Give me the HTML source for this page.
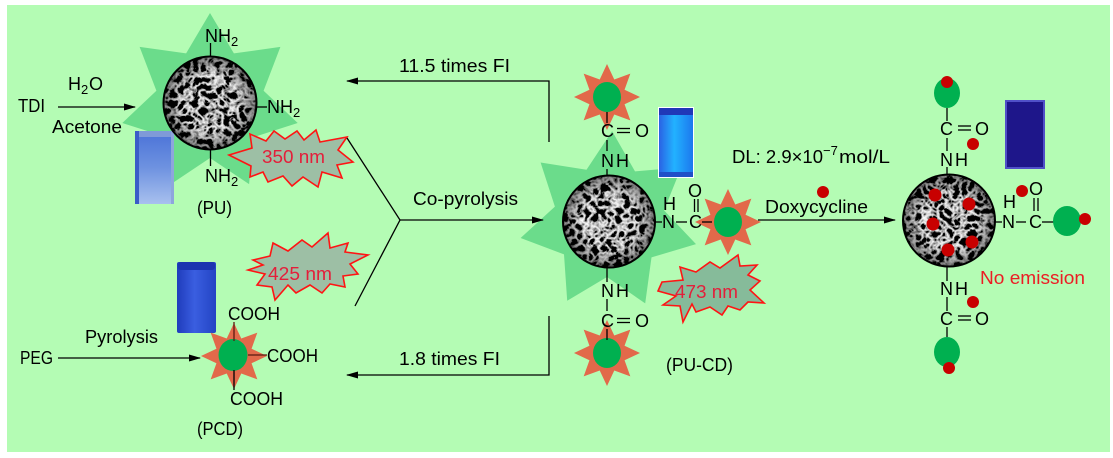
<!DOCTYPE html>
<html>
<head>
<meta charset="utf-8">
<style>
  html, body { margin: 0; padding: 0; background: #ffffff; }
  svg { display: block; }
  text { font-family: "Liberation Sans", "DejaVu Sans", sans-serif; fill: #000; }
</style>
</head>
<body>
<svg width="1113" height="458" viewBox="0 0 1113 458" xmlns="http://www.w3.org/2000/svg">
  <defs>
    <filter id="sem" x="0" y="0" width="1" height="1">
      <feTurbulence type="turbulence" baseFrequency="0.13" numOctaves="2" seed="7"/>
      <feColorMatrix type="matrix" values="-3 0 0 0 1.0  -3 0 0 0 1.0  -3 0 0 0 1.0  0 0 0 0 1"/>
    </filter>
    <radialGradient id="vig" cx="0.5" cy="0.5" r="0.5">
      <stop offset="0.6" stop-color="#000" stop-opacity="0"/>
      <stop offset="1" stop-color="#000" stop-opacity="0.45"/>
    </radialGradient>
    <clipPath id="c1"><circle cx="210" cy="103" r="46.5"/></clipPath>
    <clipPath id="c2"><circle cx="609" cy="221.5" r="46"/></clipPath>
    <clipPath id="c3"><circle cx="949" cy="220.5" r="46"/></clipPath>
    <marker id="ah" markerWidth="12" markerHeight="8" refX="11" refY="4" orient="auto" markerUnits="userSpaceOnUse">
      <path d="M0,0.5 L12,4 L0,7.5 z" fill="#000"/>
    </marker>
    <polygon id="ostar" fill="#e2694a" points="0,-33 7.27,-17.55 23.33,-23.33 17.55,-7.27 33,0 17.55,7.27 23.33,23.33 7.27,17.55 0,33 -7.27,17.55 -23.33,23.33 -17.55,7.27 -33,0 -17.55,-7.27 -23.33,-23.33 -7.27,-17.55"/>
    <linearGradient id="tubePU" x1="0" y1="0" x2="0" y2="1">
      <stop offset="0" stop-color="#4a72d8"/>
      <stop offset="0.5" stop-color="#6e92e0"/>
      <stop offset="1" stop-color="#a8c0ee"/>
    </linearGradient>
    <linearGradient id="tubePCD" x1="0" y1="0" x2="1" y2="0">
      <stop offset="0" stop-color="#1f3cbc"/>
      <stop offset="0.45" stop-color="#3a5ee0"/>
      <stop offset="1" stop-color="#2344c4"/>
    </linearGradient>
    <linearGradient id="tubeCD" x1="0" y1="0" x2="1" y2="0">
      <stop offset="0" stop-color="#2a62e4"/>
      <stop offset="0.45" stop-color="#22b2ff"/>
      <stop offset="1" stop-color="#1c78ee"/>
    </linearGradient>
  </defs>

  <!-- background -->
  <rect x="7" y="5" width="1103" height="447" fill="#b4fcb4"/>

  <!-- green stars -->
  <polygon fill="#6bdc8b" points="210,13 233.9,53.4 280.4,46.9 263.6,90.8 297.7,123 253,137.3 249.1,184.1 210,158 170.9,184.1 167,137.3 122.3,123 156.4,90.8 139.6,46.9 186.1,53.4"/>
  <polygon fill="#6bdc8b" points="612.1,131.1 635,171.4 681.3,167.4 664,210.4 696,244.1 651.5,257.4 645.2,303.4 607,277 567.2,300.7 564,254.4 520.6,238 554.9,206.6 540.6,162.5 586.5,169.7"/>

  <!-- tubes -->
  <rect x="135" y="131" width="39" height="73" fill="url(#tubePU)"/>
  <rect x="135" y="131" width="4" height="73" fill="#3a5cc8"/>
  <rect x="139" y="131" width="35" height="6" fill="#7f9ad8"/>
  <rect x="171" y="131" width="3" height="73" fill="#8ea6dc"/>

  <rect x="177" y="262" width="39" height="71" rx="2" fill="url(#tubePCD)"/>
  <rect x="178" y="262" width="37" height="8" rx="3" fill="#1c34b0"/>

  <rect x="658" y="107" width="36" height="71" fill="#ffffff"/>
  <rect x="659" y="108" width="34" height="69" fill="url(#tubeCD)"/>
  <rect x="659" y="108" width="34" height="7" fill="#2038b8"/>
  <rect x="659" y="172" width="34" height="5" fill="#2050c8"/>

  <rect x="1005" y="100" width="40" height="69" fill="#5050c8"/>
  <rect x="1007" y="102" width="36" height="65" fill="#1e168a"/>

  <!-- spheres -->
  <g clip-path="url(#c1)">
    <rect x="160" y="53" width="100" height="100" filter="url(#sem)"/>
    <circle cx="210" cy="103" r="46.5" fill="url(#vig)"/>
  </g>
  <circle cx="210" cy="103" r="46.5" fill="none" stroke="#000" stroke-width="2"/>

  <g clip-path="url(#c2)">
    <rect x="559" y="171" width="100" height="102" filter="url(#sem)"/>
    <circle cx="609" cy="221.5" r="46" fill="url(#vig)"/>
  </g>
  <circle cx="609" cy="221.5" r="46" fill="none" stroke="#000" stroke-width="2"/>

  <g clip-path="url(#c3)">
    <rect x="899" y="170" width="100" height="102" filter="url(#sem)"/>
    <circle cx="949" cy="220.5" r="46" fill="url(#vig)"/>
  </g>
  <circle cx="949" cy="220.5" r="46" fill="none" stroke="#000" stroke-width="2"/>

  <!-- orange stars -->
  <use href="#ostar" x="234" y="356"/>
  <ellipse cx="233" cy="355" rx="14.5" ry="16" fill="#00b050"/>
  <use href="#ostar" x="607" y="97"/>
  <ellipse cx="607" cy="97" rx="14" ry="15" fill="#00b050"/>
  <use href="#ostar" x="607" y="353"/>
  <ellipse cx="607" cy="353" rx="14" ry="15" fill="#00b050"/>
  <use href="#ostar" x="728" y="222"/>
  <ellipse cx="728" cy="222" rx="14" ry="15" fill="#00b050"/>

  <!-- bursts -->
  <polygon fill="#9dbfa5" stroke="#ff1414" stroke-width="1.6" stroke-linejoin="miter" points="229,155 252,148 250,134 266,141 274,131 285,139 297,131 304,140 316,130 320,142 347,137 338,150 353,162 337,165 342,178 322,172 318,187 303,177 292,186 283,176 268,182 263,172 250,177 251,166"/>
  <polygon fill="#9dbfa5" stroke="#ff1414" stroke-width="1.6" points="253,260 270,256 273,243 288,251 302,240 312,247 328,233 330,248 348,243 345,252 368,255 350,264 358,274 343,276 345,287 330,284 322,293 310,285 296,293 288,285 275,300 272,287 257,285 265,274 248,270 263,265"/>
  <polygon fill="#86bb9a" stroke="#ff1414" stroke-width="1.6" points="662,282 683,280 680,267 696,272 710,262 720,268 738,255 740,266 757,265 748,275 760,281 750,290 764,303 748,302 740,310 728,306 722,315 710,307 696,312 692,304 683,322 680,306 663,305 676,296 658,291"/>

  <!-- connectors -->
  <g stroke="#000" stroke-width="1.3" fill="none">
    <line x1="58" y1="107" x2="135" y2="107" marker-end="url(#ah)"/>
    <line x1="58" y1="358" x2="200" y2="358" marker-end="url(#ah)"/>
    <polyline points="347,138 400,220 355,306"/>
    <line x1="400" y1="220" x2="543" y2="220" marker-end="url(#ah)"/>
    <polyline points="549,142 549,81 347,81" marker-end="url(#ah)"/>
    <polyline points="549,316 549,375 347,375" marker-end="url(#ah)"/>
    <line x1="758" y1="220" x2="895" y2="220" marker-end="url(#ah)"/>

    <!-- PU NH2 bonds -->
    <line x1="210.5" y1="43" x2="210.5" y2="57"/>
    <line x1="257" y1="107" x2="267" y2="107"/>
    <line x1="210.5" y1="150" x2="210.5" y2="166"/>

    <!-- PCD bonds -->
    <line x1="234" y1="322" x2="234" y2="341" stroke="#5a1a10"/>
    <line x1="248" y1="355" x2="267" y2="355" stroke="#5a1a10"/>
    <line x1="234" y1="370" x2="234" y2="390"/>

    <!-- PU-CD bonds -->
    <line x1="607" y1="112" x2="607" y2="123"/>
    <line x1="607" y1="140" x2="607" y2="151"/>
    <line x1="607" y1="169" x2="607" y2="176"/>
    <line x1="617" y1="128.5" x2="630" y2="128.5"/>
    <line x1="617" y1="132.5" x2="630" y2="132.5"/>
    <line x1="607" y1="268" x2="607" y2="282"/>
    <line x1="607" y1="299" x2="607" y2="311"/>
    <line x1="607" y1="329" x2="607" y2="340"/>
    <line x1="617" y1="318.5" x2="630" y2="318.5"/>
    <line x1="617" y1="322.5" x2="630" y2="322.5"/>
    <line x1="655" y1="222" x2="662" y2="222"/>
    <line x1="676" y1="222" x2="687" y2="222"/>
    <line x1="694.5" y1="199" x2="694.5" y2="212"/>
    <line x1="698" y1="199" x2="698" y2="212"/>
    <line x1="702" y1="222" x2="712" y2="222"/>

    <!-- final sphere bonds -->
    <line x1="947" y1="108" x2="947" y2="121"/>
    <line x1="947" y1="138" x2="947" y2="151"/>
    <line x1="947" y1="167" x2="947" y2="175"/>
    <line x1="958" y1="126" x2="971" y2="126"/>
    <line x1="958" y1="130" x2="971" y2="130"/>
    <line x1="947" y1="267" x2="947" y2="281"/>
    <line x1="947" y1="297" x2="947" y2="311"/>
    <line x1="947" y1="327" x2="947" y2="337"/>
    <line x1="958" y1="316" x2="971" y2="316"/>
    <line x1="958" y1="320" x2="971" y2="320"/>
    <line x1="995" y1="222" x2="1002" y2="222"/>
    <line x1="1016" y1="222" x2="1026" y2="222"/>
    <line x1="1034" y1="198" x2="1034" y2="211"/>
    <line x1="1038" y1="198" x2="1038" y2="211"/>
    <line x1="1042" y1="222" x2="1054" y2="222"/>
  </g>

  <!-- final green ellipses & red dots -->
  <ellipse cx="947" cy="93" rx="13" ry="15" fill="#00b050"/>
  <ellipse cx="947" cy="352" rx="13" ry="15" fill="#00b050"/>
  <ellipse cx="1067" cy="221" rx="14" ry="15" fill="#00b050"/>
  <g fill="#c80000">
    <circle cx="823" cy="192" r="6"/>
    <circle cx="935" cy="195" r="6.5"/>
    <circle cx="969" cy="204" r="6.5"/>
    <circle cx="933" cy="224" r="6.5"/>
    <circle cx="972" cy="242" r="6.5"/>
    <circle cx="948" cy="250" r="6.5"/>
    <circle cx="947" cy="82" r="6"/>
    <circle cx="973" cy="144" r="6"/>
    <circle cx="973" cy="302" r="6"/>
    <circle cx="949" cy="368" r="6"/>
    <circle cx="1022" cy="191" r="6"/>
    <circle cx="1085" cy="219" r="6"/>
  </g>

  <!-- texts -->
  <g font-size="18">
    <text x="18" y="112" textLength="27" lengthAdjust="spacingAndGlyphs">TDI</text>
    <text x="68" y="90">H</text>
    <text x="81" y="94" font-size="13">2</text>
    <text x="89" y="90">O</text>
    <text x="52" y="133" textLength="70" lengthAdjust="spacingAndGlyphs">Acetone</text>

    <text x="205" y="42">NH</text><text x="231" y="46" font-size="13">2</text>
    <text x="267" y="113">NH</text><text x="293" y="117" font-size="13">2</text>
    <text x="205" y="182">NH</text><text x="231" y="186" font-size="13">2</text>
    <text x="197" y="214" textLength="35" lengthAdjust="spacingAndGlyphs">(PU)</text>

    <text x="399" y="72" textLength="111" lengthAdjust="spacingAndGlyphs">11.5  times FI</text>
    <text x="413" y="205" textLength="105" lengthAdjust="spacingAndGlyphs">Co-pyrolysis</text>
    <text x="399" y="365" textLength="101" lengthAdjust="spacingAndGlyphs">1.8  times FI</text>

    <text x="20" y="364" textLength="33" lengthAdjust="spacingAndGlyphs">PEG</text>
    <text x="85" y="343" textLength="73" lengthAdjust="spacingAndGlyphs">Pyrolysis</text>
    <text x="228" y="320" textLength="52" lengthAdjust="spacingAndGlyphs">COOH</text>
    <text x="267" y="362" textLength="51" lengthAdjust="spacingAndGlyphs">COOH</text>
    <text x="230" y="405" textLength="53" lengthAdjust="spacingAndGlyphs">COOH</text>
    <text x="197" y="435" textLength="46" lengthAdjust="spacingAndGlyphs">(PCD)</text>

    <!-- PU-CD chem -->
    <text x="601" y="137">C</text>
    <text x="635" y="137">O</text>
    <text x="601" y="167">N</text><text x="616" y="167">H</text>
    <text x="601" y="297">N</text><text x="616" y="297">H</text>
    <text x="601" y="327">C</text>
    <text x="635" y="327">O</text>
    <text x="663" y="210">H</text>
    <text x="662" y="228">N</text>
    <text x="689" y="228">C</text>
    <text x="688" y="197">O</text>
    <text x="666" y="371" textLength="67" lengthAdjust="spacingAndGlyphs">(PU-CD)</text>

    <!-- right side -->
    <text x="732" y="163" textLength="91" lengthAdjust="spacingAndGlyphs">DL: 2.9×10</text>
    <text x="823" y="155" font-size="13">−7</text>
    <text x="839" y="163" textLength="51" lengthAdjust="spacingAndGlyphs">mol/L</text>
    <text x="765" y="213" textLength="103" lengthAdjust="spacingAndGlyphs">Doxycycline</text>

    <text x="940" y="135">C</text>
    <text x="975" y="135">O</text>
    <text x="940" y="166">N</text><text x="955" y="166">H</text>
    <text x="940" y="295">N</text><text x="955" y="295">H</text>
    <text x="940" y="325">C</text>
    <text x="975" y="325">O</text>
    <text x="1003" y="208">H</text>
    <text x="1002" y="228">N</text>
    <text x="1029" y="228">C</text>
    <text x="1029" y="195">O</text>

    <text x="262" y="163" textLength="63" lengthAdjust="spacingAndGlyphs" style="fill:#e41e3a">350 nm</text>
    <text x="268" y="280" textLength="64" lengthAdjust="spacingAndGlyphs" style="fill:#e41e3a">425 nm</text>
    <text x="675" y="298" textLength="63" lengthAdjust="spacingAndGlyphs" style="fill:#e41e3a">473 nm</text>
    <text x="980" y="284" textLength="105" lengthAdjust="spacingAndGlyphs" style="fill:#ec1c24">No emission</text>
  </g>
</svg>
</body>
</html>
